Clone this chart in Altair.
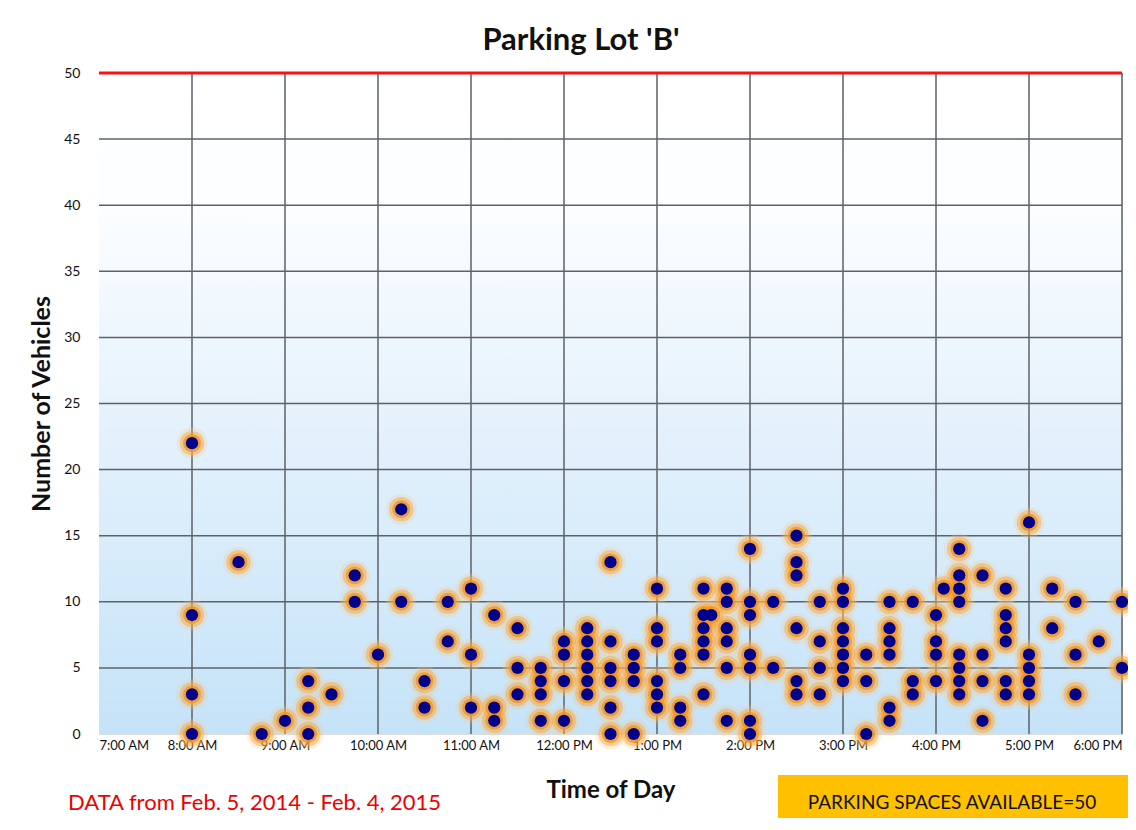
import altair as alt
import pandas as pd

# ---- data ----
time_slots = [
    "8:00", "8:30", "8:45", "9:00", "9:15", "9:30", "9:45", "10:00", "10:15",
    "10:30", "10:45", "11:00", "11:15", "11:30", "11:45", "12:00", "12:15",
    "12:30", "12:45", "13:00", "13:15", "13:30", "13:35", "13:45", "14:00",
    "14:15", "14:30", "14:45", "15:00", "15:15", "15:30", "15:45", "16:00",
    "16:05", "16:15", "16:30", "16:45", "17:00", "17:15", "17:30", "17:45",
    "18:00",
]
vehicle_counts = [
    [22, 9, 3, 0], [13], [0], [1], [4, 2, 0], [3], [12, 10], [6], [17, 10],
    [4, 2], [10, 7], [11, 6, 2], [9, 2, 1], [8, 5, 3], [5, 4, 3, 1],
    [7, 6, 4, 1], [8, 7, 6, 5, 4, 3], [13, 7, 5, 4, 2, 0], [6, 5, 4, 0],
    [11, 8, 7, 4, 3, 2], [6, 5, 2, 1], [11, 9, 8, 7, 6, 3], [9],
    [11, 10, 8, 7, 5, 1], [14, 10, 9, 6, 5, 1, 0], [10, 5],
    [15, 13, 12, 8, 4, 3], [10, 7, 5, 3], [11, 10, 8, 7, 6, 5, 4], [6, 4, 0],
    [10, 8, 7, 6, 2, 1], [10, 4, 3], [9, 7, 6, 4], [11],
    [14, 12, 11, 10, 6, 5, 4, 3], [12, 6, 4, 1], [11, 9, 8, 7, 4, 3],
    [16, 6, 5, 4, 3], [11, 8], [10, 6, 3], [7], [10, 5],
]
hour_ticks = list(range(7, 19))
hour_grid = list(range(8, 19))
count_ticks = list(range(0, 51, 5))
count_grid = list(range(5, 50, 5))
capacity = 50

chart_title = "Parking Lot 'B'"
data_note = "DATA from Feb. 5, 2014 - Feb. 4, 2015"
capacity_note = "PARKING SPACES AVAILABLE=50"


def to_hours(s):
    h, m = s.split(":")
    return int(h) + int(m) / 60.0


rows = []
for t, vals in zip(time_slots, vehicle_counts):
    for v in vals:
        rows.append({"hour": to_hours(t), "count": v})
points = pd.DataFrame(rows)

FONT = "Lato"
W, H = 1023, 661

x_scale = alt.Scale(domain=[7, 18], nice=False, zero=False)
y_scale = alt.Scale(domain=[0, 50], nice=False)

x_axis = alt.Axis(
    values=hour_ticks,
    labelExpr="datum.value == 12 ? '12:00 PM' : (datum.value > 12 ? (datum.value - 12) + ':00 PM' : datum.value + ':00 AM')",
    domain=False, ticks=False, grid=False,
    labelFont=FONT, labelFontSize=13, labelColor="#111111", labelPadding=5,
    title="Time of Day", titleFont=FONT, titleFontSize=24, titleFontWeight="bold",
    titleColor="#111111", titlePadding=26,
)
y_axis = alt.Axis(
    values=count_ticks,
    domain=False, ticks=False, grid=False,
    labelFont=FONT, labelFontSize=14, labelColor="#111111", labelPadding=19,
    title="Number of Vehicles", titleFont=FONT, titleFontSize=25,
    titleFontWeight="bold", titleColor="#111111", titlePadding=9,
)


def X(field="hour"):
    return alt.X(f"{field}:Q", scale=x_scale, axis=x_axis, title="Time of Day")


def Y(field="count"):
    return alt.Y(f"{field}:Q", scale=y_scale, axis=y_axis, title="Number of Vehicles")


bg = alt.Chart(pd.DataFrame({"hour": [7], "hour2": [18], "count": [0], "count2": [50]})).mark_rect(
    fill={
        "gradient": "linear", "x1": 0, "y1": 0, "x2": 0, "y2": 1,
        "stops": [
            {"offset": 0, "color": "#ffffff"},
            {"offset": 0.2, "color": "#fcfeff"},
            {"offset": 0.55, "color": "#e3f1fc"},
            {"offset": 1, "color": "#c5e3f8"},
        ],
    }
).encode(x=X(), x2="hour2:Q", y=Y(), y2="count2:Q")

vgrid = alt.Chart(pd.DataFrame({"hour": hour_grid, "count": [0] * len(hour_grid), "count2": [50] * len(hour_grid)})).mark_rule(
    color="#5e6266", strokeWidth=1.5
).encode(x=X(), y=Y(), y2="count2:Q")

hgrid = alt.Chart(pd.DataFrame({"count": count_grid, "hour": [7] * len(count_grid), "hour2": [18] * len(count_grid)})).mark_rule(
    color="#5e6266", strokeWidth=1.5
).encode(y=Y(), x=X(), x2="hour2:Q")

cap = alt.Chart(pd.DataFrame({"count": [capacity], "hour": [7], "hour2": [18]})).mark_rule(
    color="#ff1010", strokeWidth=3
).encode(y=Y(), x=X(), x2="hour2:Q")

glow_halo = alt.Chart(points).mark_circle(size=950, color="#fbc883", opacity=0.25).encode(x=X(), y=Y())
glow_outer = alt.Chart(points).mark_circle(size=600, color="#f8a535", opacity=0.45).encode(x=X(), y=Y())
glow_inner = alt.Chart(points).mark_circle(size=320, color="#f39018", opacity=0.75).encode(x=X(), y=Y())
dots = alt.Chart(points).mark_circle(size=150, color="#00008b", opacity=1).encode(x=X(), y=Y())

title_mark = alt.Chart(pd.DataFrame({"t": [chart_title]})).mark_text(
    align="center", baseline="middle", font=FONT, fontSize=31, fontWeight="bold", color="#111111"
).encode(text="t:N", x=alt.value(482), y=alt.value(-32))

note = alt.Chart(pd.DataFrame({"t": [data_note]})).mark_text(
    align="left", baseline="middle", font=FONT, fontSize=22, color="#ee0000"
).encode(text="t:N", x=alt.value(-31), y=alt.value(730))

box = alt.Chart(pd.DataFrame({"a": [0]})).mark_rect(color="#ffc000").encode(
    x=alt.value(679), x2=alt.value(1029), y=alt.value(702), y2=alt.value(760)
)
box_text = alt.Chart(pd.DataFrame({"t": [capacity_note]})).mark_text(
    align="center", baseline="middle", font=FONT, fontSize=19, color="#111111"
).encode(text="t:N", x=alt.value(853), y=alt.value(730))

chart = alt.layer(
    bg, vgrid, hgrid, cap, glow_halo, glow_outer, glow_inner, dots,
    title_mark, note, box, box_text
).properties(
    width=W, height=H,
    padding={"left": 91, "top": 65, "right": 6, "bottom": 84},
    autosize=alt.AutoSizeParams(type="none"),
).configure_view(stroke=None).configure(background="white")

chart.save("out.html", embed_options={"renderer": "svg", "actions": False})
